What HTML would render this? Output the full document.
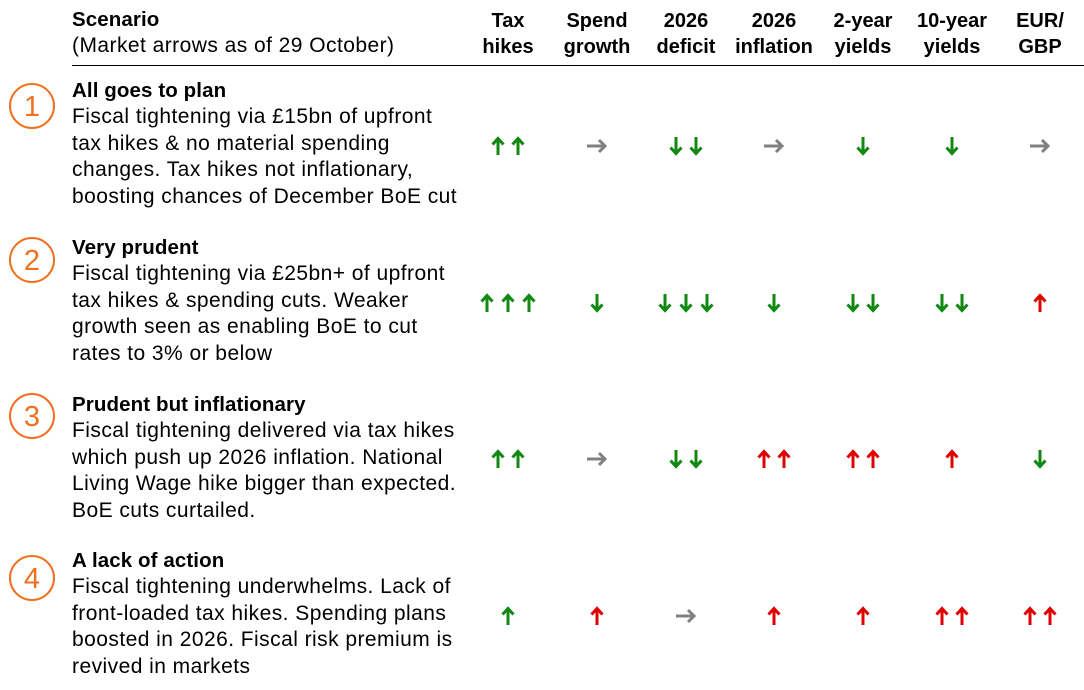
<!DOCTYPE html>
<html><head><meta charset="utf-8"><style>
body{margin:0;width:1084px;height:690px;background:#fff;position:relative;overflow:hidden;font-family:"Liberation Sans",sans-serif;color:#000}
.t{position:absolute;font-size:21px;letter-spacing:0.45px;line-height:26.4px;white-space:nowrap}
.t b{letter-spacing:0.1px;font-size:20.5px}
.h{position:absolute;font-size:20px;line-height:26px;font-weight:bold;text-align:center;top:8px;width:100px}
b{font-weight:bold}
</style></head><body>
<div class="t" style="left:72px;top:7px"><b>Scenario</b><br>(Market arrows as of 29 October)</div>
<div class="h" style="left:458px">Tax<br>hikes</div>
<div class="h" style="left:547px">Spend<br>growth</div>
<div class="h" style="left:636px">2026<br>deficit</div>
<div class="h" style="left:724px">2026<br>inflation</div>
<div class="h" style="left:813px">2-year<br>yields</div>
<div class="h" style="left:902px">10-year<br>yields</div>
<div class="h" style="left:990px">EUR/<br>GBP</div>
<div style="position:absolute;left:72px;top:65px;width:1012px;height:1px;background:#000"></div>

<div class="t" style="left:72px;top:78px"><b>All goes to plan</b><br>Fiscal tightening via £15bn of upfront<br>tax hikes &amp; no material spending<br>changes. Tax hikes not inflationary,<br>boosting chances of December BoE cut</div>
<div class="t" style="left:72px;top:235px"><b>Very prudent</b><br>Fiscal tightening via £25bn+ of upfront<br>tax hikes &amp; spending cuts. Weaker<br>growth seen as enabling BoE to cut<br>rates to 3% or below</div>
<div class="t" style="left:72px;top:392px"><b>Prudent but inflationary</b><br>Fiscal tightening delivered via tax hikes<br>which push up 2026 inflation. National<br>Living Wage hike bigger than expected.<br>BoE cuts curtailed.</div>
<div class="t" style="left:72px;top:548px"><b>A lack of action</b><br>Fiscal tightening underwhelms. Lack of<br>front-loaded tax hikes. Spending plans<br>boosted in 2026. Fiscal risk premium is<br>revived in markets</div>

<svg width="1084" height="690" style="position:absolute;left:0;top:0">
<defs>
<g id="u" fill="none" stroke-width="3"><path d="M0 9V-7M-5.5-1.5L0-7.5L5.5-1.5"/></g>
<g id="d" fill="none" stroke-width="3"><path d="M0-9V7M-5.5 1.5L0 7.5L5.5 1.5"/></g>
<g id="r" fill="none" stroke="#808080" stroke-width="3"><path d="M-10 0H8M2-6L8 0L2 6"/></g>
</defs>
<g fill="none" stroke="#f07020" stroke-width="2">
<circle cx="32" cy="106" r="22"/><circle cx="32" cy="260" r="22"/><circle cx="32" cy="416" r="22"/><circle cx="32" cy="578" r="22"/>
</g>
<g font-family="Liberation Sans,sans-serif" font-size="29" fill="#f07020" text-anchor="middle">
<text x="32" y="116">1</text><text x="32" y="270">2</text><text x="32" y="426">3</text><text x="32" y="588">4</text>
</g>
<g stroke="#118811">
<use href="#u" x="498" y="146"/><use href="#u" x="518" y="146"/>
<use href="#d" x="676" y="146"/><use href="#d" x="696" y="146"/>
<use href="#d" x="863" y="146"/><use href="#d" x="952" y="146"/>
<use href="#u" x="487" y="303"/><use href="#u" x="508" y="303"/><use href="#u" x="529" y="303"/>
<use href="#d" x="597" y="303"/>
<use href="#d" x="665" y="303"/><use href="#d" x="686" y="303"/><use href="#d" x="707" y="303"/>
<use href="#d" x="774" y="303"/>
<use href="#d" x="853" y="303"/><use href="#d" x="873" y="303"/>
<use href="#d" x="942" y="303"/><use href="#d" x="962" y="303"/>
<use href="#u" x="498" y="459"/><use href="#u" x="518" y="459"/>
<use href="#d" x="676" y="459"/><use href="#d" x="696" y="459"/>
<use href="#d" x="1040" y="459"/>
<use href="#u" x="508" y="616"/>
</g>
<g stroke="#e00000">
<use href="#u" x="1040" y="303"/>
<use href="#u" x="764" y="459"/><use href="#u" x="784" y="459"/>
<use href="#u" x="853" y="459"/><use href="#u" x="873" y="459"/>
<use href="#u" x="952" y="459"/>
<use href="#u" x="597" y="616"/><use href="#u" x="774" y="616"/><use href="#u" x="863" y="616"/>
<use href="#u" x="942" y="616"/><use href="#u" x="962" y="616"/>
<use href="#u" x="1030" y="616"/><use href="#u" x="1050" y="616"/>
</g>
<use href="#r" x="597" y="146"/><use href="#r" x="774" y="146"/><use href="#r" x="1040" y="146"/>
<use href="#r" x="597" y="459"/><use href="#r" x="686" y="616"/>
</svg>
</body></html>
